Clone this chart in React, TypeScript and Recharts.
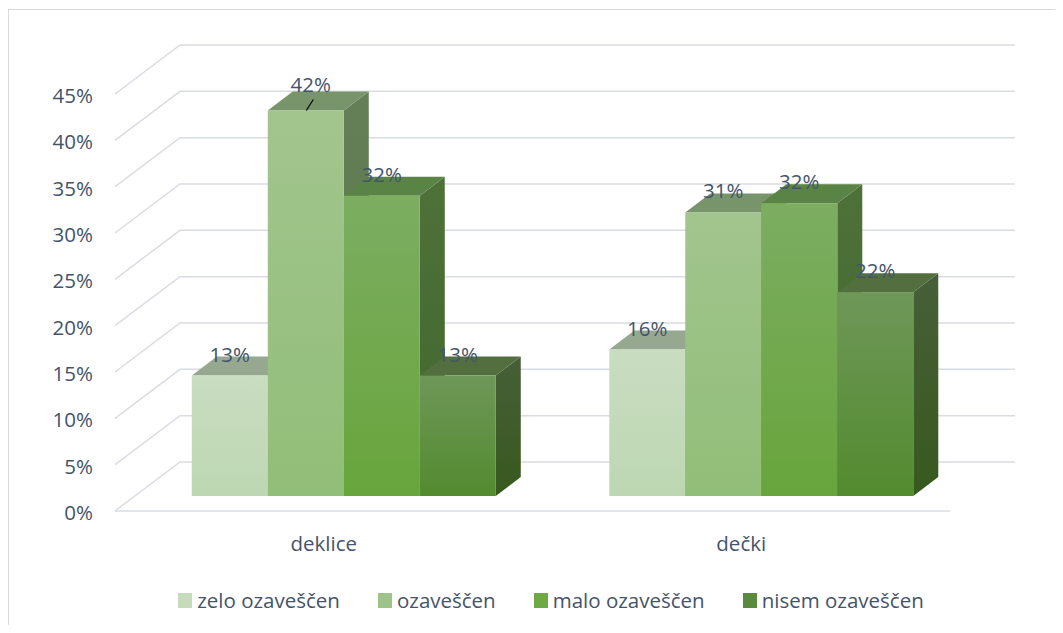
import { BarChart, Bar, XAxis, YAxis, CartesianGrid, Legend, LabelList } from 'recharts'

// values (percent)
const categories = ['deklice', 'dečki']
const zeloOzavescen = [13.0, 15.8]
const ozavescen = [41.6, 30.6]
const maloOzavescen = [32.4, 31.6]
const nisemOzavescen = [13.0, 22.0]
const seriesNames = ['zelo ozaveščen', 'ozaveščen', 'malo ozaveščen', 'nisem ozaveščen']
const yTicks = [0, 5, 10, 15, 20, 25, 30, 35, 40, 45]
// the 42% label was dragged in the original and has a leader line
const labelLeaders = [
  [false, false],
  [true, false],
  [false, false],
  [false, false],
]

const data = categories.map((name, i) => ({
  name,
  zelo: zeloOzavescen[i],
  ozav: ozavescen[i],
  malo: maloOzavescen[i],
  nisem: nisemOzavescen[i],
}))

const W = 1084
const H = 680
const MARGIN = { top: 84, right: 143, bottom: 139, left: 46 }

// depth of the 3D box (front plane -> back wall)
const DEPTH_X = 65
const DEPTH_Y = 49
// bars sit in the middle of that depth
const BAR_OFF_X = 20
const BAR_OFF_Y = 15
const BAR_DX = 25
const BAR_DY = 19

const GRID = '#D9DCE3'
const TEXT = '#44546A'
const FONT = '"Open Sans", sans-serif'
const FONT_SIZE = 20.5

const styles = [
  { key: 'zelo', legend: '#C5DBBA', frontTop: '#C9DDC1', frontBottom: '#BDD7B2', top: '#97A891', sideTop: '#8FA486', sideBottom: '#7F9A73' },
  { key: 'ozav', legend: '#9DC388', frontTop: '#A2C58E', frontBottom: '#91BE78', top: '#77946A', sideTop: '#657F58', sideBottom: '#57773F' },
  { key: 'malo', legend: '#6FA944', frontTop: '#7CAD61', frontBottom: '#68A53C', top: '#5A8445', sideTop: '#4E7139', sideBottom: '#40682D' },
  { key: 'nisem', legend: '#5A8A3C', frontTop: '#6E9758', frontBottom: '#538B2F', top: '#536F40', sideTop: '#475F38', sideBottom: '#37591E' },
]

function Box3D(props: any) {
  const { x, y, width, height, index, s } = props
  if (width == null || height == null) return null
  const fx = x + BAR_OFF_X
  const fy = y - BAR_OFF_Y
  const r = fx + width
  const b = fy + height
  const id = `${s.key}-${index}`
  return (
    <g>
      <defs>
        <linearGradient id={`front-${id}`} x1="0" y1="0" x2="0" y2="1">
          <stop offset="0" stopColor={s.frontTop} />
          <stop offset="1" stopColor={s.frontBottom} />
        </linearGradient>
        <linearGradient id={`side-${id}`} x1="0" y1="0" x2="0" y2="1">
          <stop offset="0" stopColor={s.sideTop} />
          <stop offset="1" stopColor={s.sideBottom} />
        </linearGradient>
      </defs>
      <polygon
        points={`${r},${fy} ${r + BAR_DX},${fy - BAR_DY} ${r + BAR_DX},${b - BAR_DY} ${r},${b}`}
        fill={`url(#side-${id})`}
      />
      <polygon
        points={`${fx},${fy} ${r},${fy} ${r + BAR_DX},${fy - BAR_DY} ${fx + BAR_DX},${fy - BAR_DY}`}
        fill={s.top}
      />
      <rect x={fx} y={fy} width={width} height={height} fill={`url(#front-${id})`} />
    </g>
  )
}

const makeLabel = (si: number) => (p: any) => {
  const vb = p.viewBox || {}
  const x = p.x ?? vb.x
  const y = p.y ?? vb.y
  const width = p.width ?? vb.width
  const cx = x + width / 2 + BAR_OFF_X
  const top = y - BAR_OFF_Y
  const moved = labelLeaders[si][p.index]
  return (
    <g>
      <text
        x={moved ? cx + 5 : cx}
        y={moved ? top - 19 : top - 14}
        textAnchor="middle"
        fill={TEXT}
        fontFamily={FONT}
        fontSize={FONT_SIZE}
      >
        {Math.round(p.value)}%
      </text>
      {moved && <line x1={cx + 0.5} y1={top} x2={cx + 7.5} y2={top - 11} stroke="#000" strokeWidth={1.2} />}
    </g>
  )
}

const gridLine = (p: any) => {
  const { x1, y1, x2 } = p
  const by = y1 - DEPTH_Y
  return (
    <polyline
      key={p.key ?? `grid-${p.index}`}
      points={`${x1},${y1} ${x1 + DEPTH_X},${by} ${x2 + DEPTH_X},${by}`}
      fill="none"
      stroke={GRID}
      strokeWidth={1.5}
    />
  )
}

const YTick = (p: any) => (
  <text x={p.x} y={p.y} dy={9} textAnchor="end" fill={TEXT} fontFamily={FONT} fontSize={FONT_SIZE}>
    {p.payload.value}%
  </text>
)

const XTick = (p: any) => (
  <text x={p.x} y={p.y} dy={15} textAnchor="middle" fill={TEXT} fontFamily={FONT} fontSize={FONT_SIZE}>
    {p.payload.value}
  </text>
)

const renderLegend = (props: any) => {
  const payload = [...(props.payload || [])].sort(
    (a: any, b: any) => seriesNames.indexOf(a.value) - seriesNames.indexOf(b.value)
  )
  return (
    <div
      style={{
        display: 'flex',
        justifyContent: 'center',
        alignItems: 'center',
        gap: 38,
        height: 30,
        lineHeight: '30px',
        fontFamily: FONT,
        fontSize: FONT_SIZE,
        color: TEXT,
      }}
    >
      {payload.map((entry: any) => (
        <div key={entry.value} style={{ display: 'flex', alignItems: 'center' }}>
          <span style={{ display: 'inline-block', width: 14, height: 15, background: entry.color, marginRight: 5 }} />
          <span>{entry.value}</span>
        </div>
      ))}
    </div>
  )
}

export default function App() {
  return (
    <div style={{ width: 1055, height: 617, overflow: 'hidden' }}>
      <div style={{ marginTop: 1, width: 1100, height: 700, border: '1px solid #D9D9D9', background: '#fff' }}>
        <BarChart width={W} height={H} data={data} margin={MARGIN} barCategoryGap="13.6%" barGap={0}>
          <CartesianGrid vertical={false} horizontal={gridLine} />
          <XAxis
            dataKey="name"
            height={40}
            axisLine={{ stroke: GRID, strokeWidth: 1.5 }}
            tickLine={false}
            tickSize={0}
            tickMargin={25}
            tick={<XTick />}
          />
          <YAxis
            width={60}
            domain={[0, 45]}
            ticks={yTicks}
            interval={0}
            axisLine={false}
            tickLine={false}
            tickSize={0}
            tickMargin={22}
            tick={<YTick />}
          />
          <Legend
            layout="horizontal"
            verticalAlign="middle"
            align="center"
            content={renderLegend}
            wrapperStyle={{ left: 0, top: 575, width: W, height: 30 }}
          />
          {styles.map((s, i) => (
            <Bar
              key={s.key}
              dataKey={s.key}
              name={seriesNames[i]}
              fill={s.legend}
              isAnimationActive={false}
              shape={(p: any) => <Box3D {...p} s={s} />}
            >
              <LabelList dataKey={s.key} content={makeLabel(i)} />
            </Bar>
          ))}
        </BarChart>
      </div>
    </div>
  )
}
